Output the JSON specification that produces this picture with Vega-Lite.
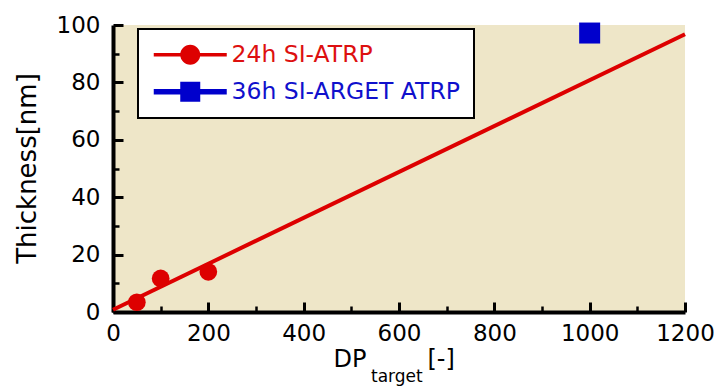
{
  "$schema": "https://vega.github.io/schema/vega-lite/v6.json",
  "autosize": {"type": "none"},
  "padding": {"left": 113, "top": 25, "right": 33, "bottom": 75},
  "width": 572,
  "height": 287,
  "background": "white",
  "config": {
    "view": {"fill": "#EEE6C8", "stroke": null},
    "axis": {"grid": false, "domainColor": "black", "domainWidth": 4, "tickColor": "black", "labelColor": "black", "labelFont": "DejaVu Sans", "labelFontSize": 23, "titleColor": "black", "titleFont": "DejaVu Sans", "titleFontWeight": "normal"},
    "legend": {"strokeWidth": 2}
  },
  "title": {"text": "target", "orient": "bottom", "anchor": "start", "frame": "group", "dx": 258, "offset": -2, "fontSize": 17, "font": "DejaVu Sans", "fontWeight": "normal", "color": "black", "baseline": "top"},
  "datasets": {
    "fit": [{"dp": 0, "thickness": 0.8}, {"dp": 1200, "thickness": 96.8}],
    "pts": [
      {"dp": 50, "thickness": 3.4, "series": "24h SI-ATRP"},
      {"dp": 100, "thickness": 11.7, "series": "24h SI-ATRP"},
      {"dp": 200, "thickness": 14.0, "series": "24h SI-ATRP"},
      {"dp": 1000, "thickness": 97.2, "series": "36h SI-ARGET ATRP"}
    ]
  },
  "resolve": {"axis": {"x": "independent", "y": "independent"}},
  "layer": [
    {
      "data": {"name": "fit"},
      "mark": {"type": "line", "color": "#DD0000", "strokeWidth": 4, "clip": false},
      "encoding": {
        "x": {"field": "dp", "type": "quantitative", "scale": {"domain": [0, 1200], "nice": false, "zero": false},
          "axis": {"orient": "bottom", "values": [0,200,400,600,800,1000,1200], "format": "d", "ticks": false, "labelPadding": 10, "labelFlush": false, "labelOverlap": false,
            "title": "DP\u00a0\u00a0\u00a0\u00a0\u00a0\u00a0\u00a0\u00a0[-]", "titleFontSize": 24, "titleAlign": "left", "titleBaseline": "alphabetic", "titleX": 220, "titleY": 54}},
        "y": {"field": "thickness", "type": "quantitative", "scale": {"domain": [0, 100], "nice": false, "zero": false},
          "axis": {"orient": "left", "values": [0,20,40,60,80,100], "ticks": false, "labelPadding": 13, "labelFlush": false, "labelOverlap": false,
            "title": "Thickness[nm]", "titleFontSize": 26, "titleAngle": -90, "titleAlign": "center", "titleBaseline": "middle", "titleX": -86, "titleY": 143}}
      }
    },
    {
      "data": {"name": "pts"},
      "transform": [{"filter": "datum.series === '24h SI-ATRP'"}],
      "mark": {"type": "circle", "color": "#DD0000", "size": 314, "opacity": 1, "clip": false},
      "encoding": {
        "x": {"field": "dp", "type": "quantitative",
          "axis": {"orient": "bottom", "values": [0,200,400,600,800,1000,1200], "tickSize": 10, "tickWidth": 3, "offset": -10, "labels": false, "domain": false, "title": null}},
        "y": {"field": "thickness", "type": "quantitative",
          "axis": {"orient": "left", "values": [0,20,40,60,80,100], "tickSize": 10, "tickWidth": 3, "offset": -10, "labels": false, "domain": false, "title": null}}
      }
    },
    {
      "data": {"name": "pts"},
      "transform": [{"filter": "datum.series === '36h SI-ARGET ATRP'"}],
      "mark": {"type": "square", "color": "#0000CC", "size": 441, "opacity": 1, "clip": false},
      "encoding": {
        "x": {"field": "dp", "type": "quantitative", "axis": null},
        "y": {"field": "thickness", "type": "quantitative", "axis": null}
      }
    },
    {
      "data": {"name": "pts"},
      "transform": [{"filter": "false"}],
      "mark": {"type": "point", "filled": true, "opacity": 1},
      "encoding": {
        "x": {"field": "dp", "type": "quantitative",
          "axis": {"orient": "bottom", "values": [100,300,500,700,900,1100], "tickSize": 6, "tickWidth": 2.5, "offset": -6, "labels": false, "domain": false, "title": null}},
        "y": {"field": "thickness", "type": "quantitative",
          "axis": {"orient": "left", "values": [10,30,50,70,90], "tickSize": 6, "tickWidth": 2.5, "offset": -6, "labels": false, "domain": false, "title": null}},
        "color": {"field": "series", "type": "nominal",
          "scale": {"domain": ["24h SI-ATRP", "36h SI-ARGET ATRP"], "range": ["#DD0000", "#0000CC"]},
          "legend": {"orient": "none", "legendX": 25, "legendY": 4, "title": null, "padding": 14, "fillColor": "white", "strokeColor": "black", "labelFont": "DejaVu Sans", "labelFontSize": 23.5, "labelLimit": 500, "labelOffset": 56, "rowPadding": 12, "symbolSize": 400, "symbolStrokeWidth": 0, "symbolOpacity": 1,
            "labelColor": {"expr": "datum.value === '24h SI-ATRP' ? '#DD1010' : '#1010CC'"}}},
        "shape": {"field": "series", "type": "nominal",
          "scale": {"domain": ["24h SI-ATRP", "36h SI-ARGET ATRP"], "range": ["M-1,-0.17L6.3,-0.17L6.3,0.17L-1,0.17ZM1.65,0A1,1 0 1,1 3.65,0A1,1 0 1,1 1.65,0Z", "M-1,-0.27L6.3,-0.27L6.3,0.27L-1,0.27ZM1.65,-1L3.65,-1L3.65,1L1.65,1Z"]},
          "legend": {"orient": "none", "legendX": 25, "legendY": 4, "title": null, "padding": 14, "fillColor": "white", "strokeColor": "black", "labelFont": "DejaVu Sans", "labelFontSize": 23.5, "labelLimit": 500, "labelOffset": 56, "rowPadding": 12, "symbolSize": 400, "symbolStrokeWidth": 0, "symbolOpacity": 1,
            "labelColor": {"expr": "datum.value === '24h SI-ATRP' ? '#DD1010' : '#1010CC'"}}}
      }
    }
  ]
}
